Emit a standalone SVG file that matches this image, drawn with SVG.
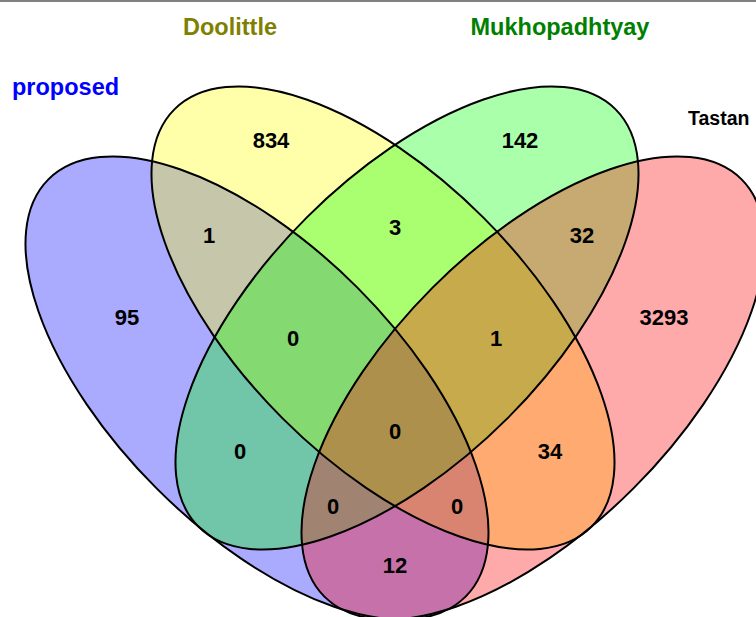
<svg xmlns="http://www.w3.org/2000/svg" width="756" height="617" viewBox="0 0 756 617">
<style>
.fill{fill-opacity:0.333;stroke:none}
.outline{fill:none;stroke:#000;stroke-width:2}
.count{font-family:"Liberation Sans",Arial,sans-serif;font-weight:bold;font-size:22px;fill:#000;text-anchor:middle}
.setname{font-family:"Liberation Sans",Arial,sans-serif;font-weight:bold;font-size:23.5px}
</style>
<defs>
<ellipse id="shape-proposed" cx="257" cy="388" rx="295" ry="142" transform="rotate(45 257 388)"/>
<ellipse id="shape-doolittle" cx="383" cy="318" rx="295" ry="142" transform="rotate(45 383 318)"/>
<ellipse id="shape-mukhopadhtyay" cx="407" cy="318" rx="295" ry="142" transform="rotate(-45 407 318)"/>
<ellipse id="shape-tastan" cx="533" cy="388" rx="295" ry="142" transform="rotate(-45 533 388)"/>
</defs>
<rect x="0" y="0" width="756" height="617" fill="#fff"/>
<line x1="0" y1="1" x2="756" y2="1" stroke="#808080" stroke-width="2"/>
<g id="set-proposed">
<use href="#shape-proposed" class="fill" fill="#0000ff"/>
<text class="setname" x="12" y="95" fill="#0000ff">proposed</text>
</g>
<g id="set-doolittle">
<use href="#shape-doolittle" class="fill" fill="#ffff00"/>
<text class="setname" x="230" y="35" fill="#808000" text-anchor="middle">Doolittle</text>
</g>
<g id="set-mukhopadhtyay">
<use href="#shape-mukhopadhtyay" class="fill" fill="#00ff00"/>
<text class="setname" x="560" y="35" fill="#008000" text-anchor="middle">Mukhopadhtyay</text>
</g>
<g id="set-tastan">
<use href="#shape-tastan" class="fill" fill="#ff0000"/>
<text class="setname" x="688" y="125" fill="#000" style="font-size:19.5px">Tastan</text>
</g>
<g id="outlines">
<use href="#shape-proposed" class="outline"/>
<use href="#shape-doolittle" class="outline"/>
<use href="#shape-mukhopadhtyay" class="outline"/>
<use href="#shape-tastan" class="outline"/>
</g>
<g id="counts">
<text class="count" x="271" y="148">834</text>
<text class="count" x="520" y="148">142</text>
<text class="count" x="209" y="243">1</text>
<text class="count" x="395" y="235">3</text>
<text class="count" x="582" y="243">32</text>
<text class="count" x="127" y="325">95</text>
<text class="count" x="293" y="346">0</text>
<text class="count" x="496" y="346">1</text>
<text class="count" x="664" y="325">3293</text>
<text class="count" x="395" y="439">0</text>
<text class="count" x="240" y="459">0</text>
<text class="count" x="550" y="459">34</text>
<text class="count" x="333" y="514">0</text>
<text class="count" x="457" y="514">0</text>
<text class="count" x="395" y="573">12</text>
</g>
</svg>
